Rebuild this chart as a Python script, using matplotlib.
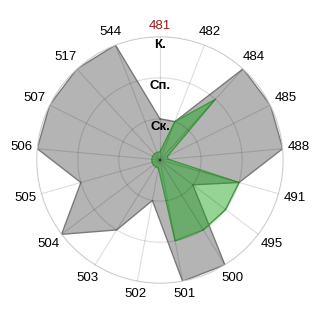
import numpy as np
import matplotlib
matplotlib.use("Agg")
import matplotlib.pyplot as plt
from matplotlib.transforms import ScaledTranslation

categories = ["481", "482", "484", "485", "488", "491", "495", "500", "501",
              "502", "503", "504", "505", "506", "507", "517", "544"]
grey_values = [1, 1, 3, 3, 3, 2, 1, 3, 3, 1, 2, 3, 2, 3, 3, 3, 3]
green_values = [0.2, 1, 2, 0.2, 0.2, 2, 2, 2, 2, 0.2, 0.2, 0.2, 0.2, 0.2, 0.2, 0.2, 0.2]
level_labels = ["Ск.", "Сп.", "К."]
level_values = [1, 2, 3]

plt.rcParams['font.family'] = ['Liberation Sans', 'DejaVu Sans']

fig = plt.figure(figsize=(3.2, 3.2), dpi=100)
ax = fig.add_axes([0.1146, 0.1146, 0.7706, 0.7706], polar=True)
ax.set_theta_zero_location('N')
ax.set_theta_direction(-1)

n = len(categories)
angles = np.arange(n) * 2 * np.pi / n
ang_c = np.concatenate([angles, angles[:1]])

g = np.concatenate([grey_values, grey_values[:1]])
ax.fill(ang_c, g, color='#b4b4b4', zorder=1, lw=0)
ax.plot(ang_c, g, color='#7a7a7a', lw=1.0, zorder=1.1)

gr = np.concatenate([green_values, green_values[:1]])
ax.fill(ang_c, gr, color=(0.08, 0.63, 0.08), alpha=0.45, zorder=1.2, lw=0)
ax.plot(ang_c, gr, color='#3c9c3c', lw=1.0, zorder=1.3)

ax.set_ylim(0, 3)
ax.set_yticks(level_values)
ax.set_yticklabels([])
ax.set_xticks(angles)
ax.set_xticklabels([])
ax.tick_params(axis='x', length=0)
ax.set_axisbelow(False)
ax.xaxis.grid(True, color='black', alpha=0.13, lw=0.8)
ax.yaxis.grid(True, color='black', alpha=0.13, lw=0.8)
ax.spines['polar'].set_color('#dddddd')
ax.spines['polar'].set_linewidth(0.8)

# category labels placed just outside the outer ring
gap, hw, hh = 4.7, 10.5, 6.0  # pixels
for i, (a, lab) in enumerate(zip(angles, categories)):
    ux, uy = np.sin(a), np.cos(a)
    off = gap + hw * abs(ux) + hh * abs(uy)
    tr = ax.transData + ScaledTranslation(off * ux / 100, off * uy / 100, fig.dpi_scale_trans)
    ax.text(a, 3, lab, transform=tr, ha='center', va='center', fontsize=9.5,
            color='#9b1c1c' if i == 0 else 'black', clip_on=False)

for v, lab in zip(level_values, level_labels):
    ax.text(0, v - 0.06, lab, ha='center', va='top', fontsize=9.5,
            fontweight='bold', color='black', zorder=5)

fig.savefig('out.png', dpi=100)
